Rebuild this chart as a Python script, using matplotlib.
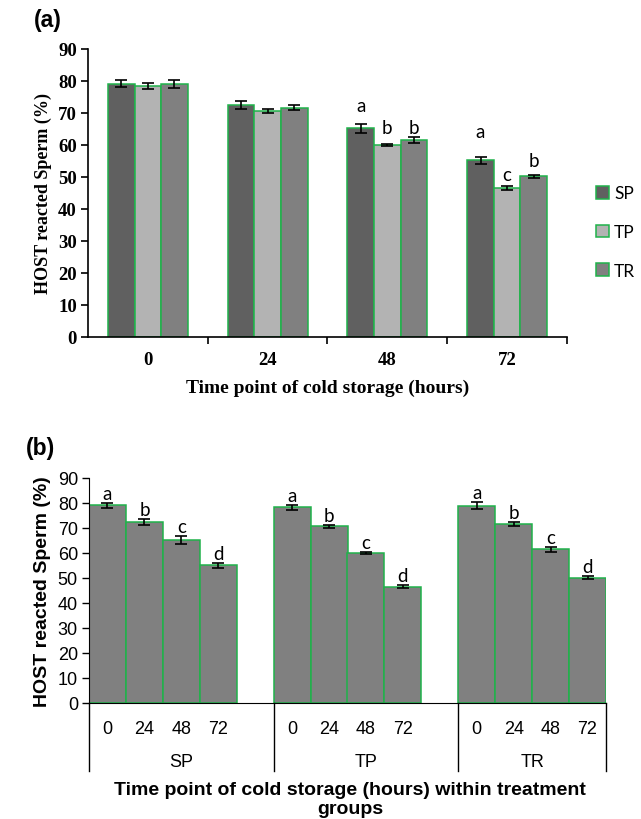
import numpy as np
import matplotlib
matplotlib.use("Agg")
import matplotlib.pyplot as plt
from matplotlib.patches import Patch

# dati
hours = ['0', '24', '48', '72']
groups = ['SP', 'TP', 'TR']
sp_mean = [79.2, 72.5, 65.2, 55.2]
tp_mean = [78.4, 70.7, 60.0, 46.5]
tr_mean = [79.0, 71.6, 61.5, 50.2]
sp_err = [1.0, 1.2, 1.5, 1.0]
tp_err = [1.0, 0.7, 0.3, 0.6]
tr_err = [1.3, 0.8, 1.0, 0.5]

# lettere di significativita' (a): tra gruppi per ogni tempo
letters_a = [['', '', ''], ['', '', ''], ['a', 'b', 'b'], ['a', 'c', 'b']]
letters_a_off = [[0, 0, 0], [0, 0, 0], [3.9, 3.4, 1.2], [6.3, 2.0, 2.7]]
# lettere (b): tra tempi entro ogni gruppo
letters_b = ['a', 'b', 'c', 'd']

means = [sp_mean, tp_mean, tr_mean]
errs = [sp_err, tp_err, tr_err]
colors = ['#606060', '#b3b3b3', '#808080']
green = '#1fb24a'

serif = 'Liberation Serif'
sans = 'Liberation Sans'
cal = 'Lato'

fig = plt.figure(figsize=(6.41, 8.20), dpi=100)

# ---------------- pannello (a) ----------------
ax1 = fig.add_axes([88/641, 1-338/820, (567-88)/641, (338-50)/820])
x = np.arange(len(hours))
w = 0.222
for i in range(3):
    ax1.bar(x + (i-1)*w, means[i], w, color=colors[i], edgecolor=green, linewidth=1.1,
            yerr=errs[i], capsize=4, error_kw=dict(elinewidth=1.2, capthick=1.2, ecolor='black'),
            label=groups[i], zorder=2)
    for j in range(len(hours)):
        if letters_a[j][i]:
            ax1.text(x[j] + (i-1)*w, means[i][j] + errs[i][j] + letters_a_off[j][i],
                     letters_a[j][i], ha='center', va='baseline', fontsize=13.5, family=cal)

ax1.set_xlim(-0.5, 3.5)
ax1.set_ylim(0, 90)
ax1.set_yticks(range(0, 91, 10))
ax1.set_xticks(x)
ax1.set_xticklabels(hours)
ax1.set_xticks(x + 0.5, minor=True)
ax1.tick_params(axis='x', which='major', length=0, pad=10)
ax1.tick_params(axis='x', which='minor', length=5, width=1.2, direction='out')
ax1.tick_params(axis='y', length=5, width=1.2, direction='out', pad=3)
for lab in ax1.get_xticklabels() + ax1.get_yticklabels():
    lab.set_family(serif)
    lab.set_fontweight('bold')
    lab.set_fontsize(13.5)
for s in ['top', 'right']:
    ax1.spines[s].set_visible(False)
for s in ['left', 'bottom']:
    ax1.spines[s].set_linewidth(1.2)
ax1.set_ylabel('HOST reacted Sperm (%)', family=serif, fontweight='bold', fontsize=13, labelpad=4)
ax1.set_xlabel('Time point of cold storage (hours)', family=serif, fontweight='bold', fontsize=14, labelpad=8)

handles = [Patch(facecolor=colors[i], edgecolor=green, linewidth=1.1, label=groups[i]) for i in range(3)]
fig.legend(handles=handles, loc='center left', bbox_to_anchor=(596/641, 1-233/820), frameon=False,
           handlelength=0.75, handleheight=0.75, handletextpad=0.3, labelspacing=1.3,
           borderpad=0, borderaxespad=0, prop=dict(family=cal, size=12.5))

fig.text(34/641, 1-21/820, '(a)', family=sans, fontweight='bold', fontsize=16.5, va='center')

# ---------------- pannello (b) ----------------
ax2 = fig.add_axes([89/641, 1-704/820, (606-89)/641, (704-479)/820])
for g in range(3):
    pos = np.arange(len(hours)) + g*5
    ax2.bar(pos, means[g], 1.0, color='#808080', edgecolor=green, linewidth=1.1,
            yerr=errs[g], capsize=4, error_kw=dict(elinewidth=1.2, capthick=1.2, ecolor='black'), zorder=2)
    for j in range(len(hours)):
        ax2.text(pos[j], means[g][j] + errs[g][j] + 1.5, letters_b[j], ha='center', va='baseline',
                 fontsize=13.5, family=cal)

ax2.set_xlim(-0.5, 13.5)
ax2.set_ylim(0, 90)
ax2.set_yticks(range(0, 91, 10))
allpos = [j + g*5 for g in range(3) for j in range(len(hours))]
ax2.set_xticks(allpos)
ax2.set_xticklabels(hours*3)
ax2.tick_params(axis='x', length=0, pad=12)
ax2.tick_params(axis='y', length=5, width=1.0, direction='out', pad=3)
for lab in ax2.get_xticklabels() + ax2.get_yticklabels():
    lab.set_family(sans)
    lab.set_fontsize(13)
for s in ['top', 'right']:
    ax2.spines[s].set_visible(False)
tr = ax2.get_xaxis_transform()
for xb in [-0.5, 4.5, 9.5, 13.5]:
    ax2.plot([xb, xb], [0, -0.303], color='black', lw=1.0, transform=tr, clip_on=False)
for g, xc in enumerate([2.0, 7.0, 11.5]):
    ax2.text(xc, -0.26, groups[g], transform=tr, ha='center', va='center', family=sans, fontsize=13)
ax2.set_ylabel('HOST reacted Sperm (%)', family=sans, fontweight='bold', fontsize=14, labelpad=5)
fig.text(350/641, 1-800/820, 'Time point of cold storage (hours) within treatment\ngroups',
         ha='center', va='center', family=sans, fontweight='bold', fontsize=14, linespacing=1.15)

fig.text(26/641, 1-449/820, '(b)', family=sans, fontweight='bold', fontsize=16.5, va='center')

fig.savefig('out.png', dpi=100)
